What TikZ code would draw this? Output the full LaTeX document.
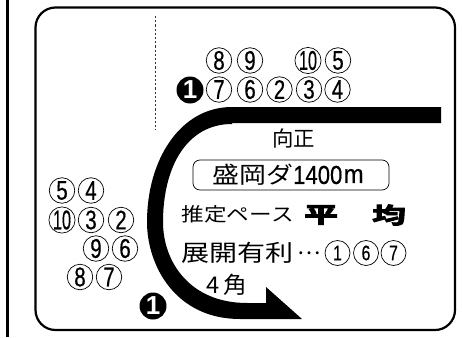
\documentclass[tikz,border=0pt]{standalone}
\usepackage{fontspec}
\setmainfont{Noto Sans CJK JP}
\newfontfamily\numf[FakeBold=0.5]{Liberation Sans}
\newfontfamily\leadf{Liberation Sans Bold}
\newfontfamily\heavyf{Noto Sans CJK JP Bold}[FakeBold=4]
\newcommand\hd[1]{\scalebox{0.76}[1]{#1}}
\newcommand\hdt[1]{\scalebox{0.6}[1]{#1}}
\begin{document}
\begin{tikzpicture}[x=1pt,y=-1pt,
  horse/.style={circle,draw=black,line width=0.7pt,fill=white,minimum size=25.5pt,inner sep=0pt,font=\fontsize{27}{27}\numf},
  horsesmall/.style={horse,minimum size=25pt,font=\fontsize{21}{21}\numf},
  leader/.style={circle,fill=black,text=white,minimum size=27pt,inner sep=0pt,font=\fontsize{26}{26}\leadf},
  label/.style={inner sep=0pt,text=black,anchor=center}]
\useasboundingbox (0,0) rectangle (462,337);
\fill[white] (0,0) rectangle (462,337);
\draw[line width=2.2pt] (7.5,0) -- (7.5,337);
\draw[line width=2.2pt,rounded corners=20pt] (35.5,7.5) rectangle (455,330);
\draw[line width=0.9pt,dash pattern=on 2.2pt off 2pt,black!80] (155,16) -- (155,130);
% track
\fill[black] (441,107) -- (232,107)
  .. controls (180,107) and (147,160) .. (147,222)
  .. controls (147,265) and (175,319) .. (240,319)
  -- (302,319) -- (266,287) -- (266,303) -- (247,303)
  .. controls (190,303) and (163,262) .. (163,222)
  .. controls (163,168) and (186,124) .. (232,124)
  -- (232,123) -- (441,123) -- cycle;
% upper group
\node[horse] (u8) at (219,60.5) {\hd{8}};
\node[horse] (u9) at (250,60.5) {\hd{9}};
\node[horse] (u10) at (308,60.5) {\hdt{10}};
\node[horse] (u5) at (338,60.5) {\hd{5}};
\node[leader] (u1) at (190,90) {1};
\node[horse] (u7) at (219,89.5) {\hd{7}};
\node[horse] (u6) at (250,89.5) {\hd{6}};
\node[horse] (u2) at (279.5,89.5) {\hd{2}};
\node[horse] (u3) at (309,89.5) {\hd{3}};
\node[horse] (u4) at (337.5,89.5) {\hd{4}};
% left group
\node[horse] (l5) at (62,190.5) {\hd{5}};
\node[horse] (l4) at (91,190.5) {\hd{4}};
\node[horse] (l10) at (62,220) {\hdt{10}};
\node[horse] (l3) at (91,220) {\hd{3}};
\node[horse] (l2) at (121,220) {\hd{2}};
\node[horse] (l9) at (96,248.5) {\hd{9}};
\node[horse] (l6) at (125,248.5) {\hd{6}};
\node[horse] (l8) at (80,277) {\hd{8}};
\node[horse] (l7) at (109,277) {\hd{7}};
\node[leader] (l1) at (153,306) {1};
% texts
\node[label,font=\fontsize{21}{21}\selectfont] (dir) at (293.5,138) {\scalebox{1.02}[1]{向正}};
\node[draw=black,line width=0.7pt,rounded corners=7pt,minimum width=196pt,minimum height=30pt,inner sep=0pt] (course) at (291,175) {};
\node[label,anchor=west,font=\fontsize{23}{23}\selectfont] (coursejp) at (212,175) {\scalebox{1.17}[1]{盛岡ダ}};
\node[label,anchor=west,font=\fontsize{26}{26}\numf] (coursenum) at (293,175) {\scalebox{0.85}[1]{1400}};
\node[label,anchor=west,font=\fontsize{26}{26}\numf] (courseunit) at (343.5,176) {\scalebox{0.92}[1]{m}};
\node[label,anchor=west,font=\fontsize{19}{19}\selectfont] (pace) at (181.5,214) {\scalebox{1.19}[1]{推定ペース}};
\node[label,font=\fontsize{24}{24}\heavyf] (p1) at (321,215) {\scalebox{1.4}[0.92]{平}};
\node[label,font=\fontsize{24}{24}\heavyf] (p2) at (389,215) {\scalebox{1.4}[0.92]{均}};
\node[label,anchor=west,font=\fontsize{23}{23}\selectfont] (adv) at (181.5,253) {\scalebox{1.22}[1]{展開有利}};
\node[label,font=\fontsize{22}{22}\selectfont] (dots) at (309.5,253) {⋯};
\node[horsesmall] (a1) at (337.5,253) {\hd{1}};
\node[horsesmall] (a6) at (366,253) {\hd{6}};
\node[horsesmall] (a7) at (393.5,253) {\hd{7}};
\node[label,anchor=west,font=\fontsize{23}{23}\selectfont] (corner) at (206,285) {\scalebox{1.03}[1]{4\,角}};
\end{tikzpicture}
\end{document}
